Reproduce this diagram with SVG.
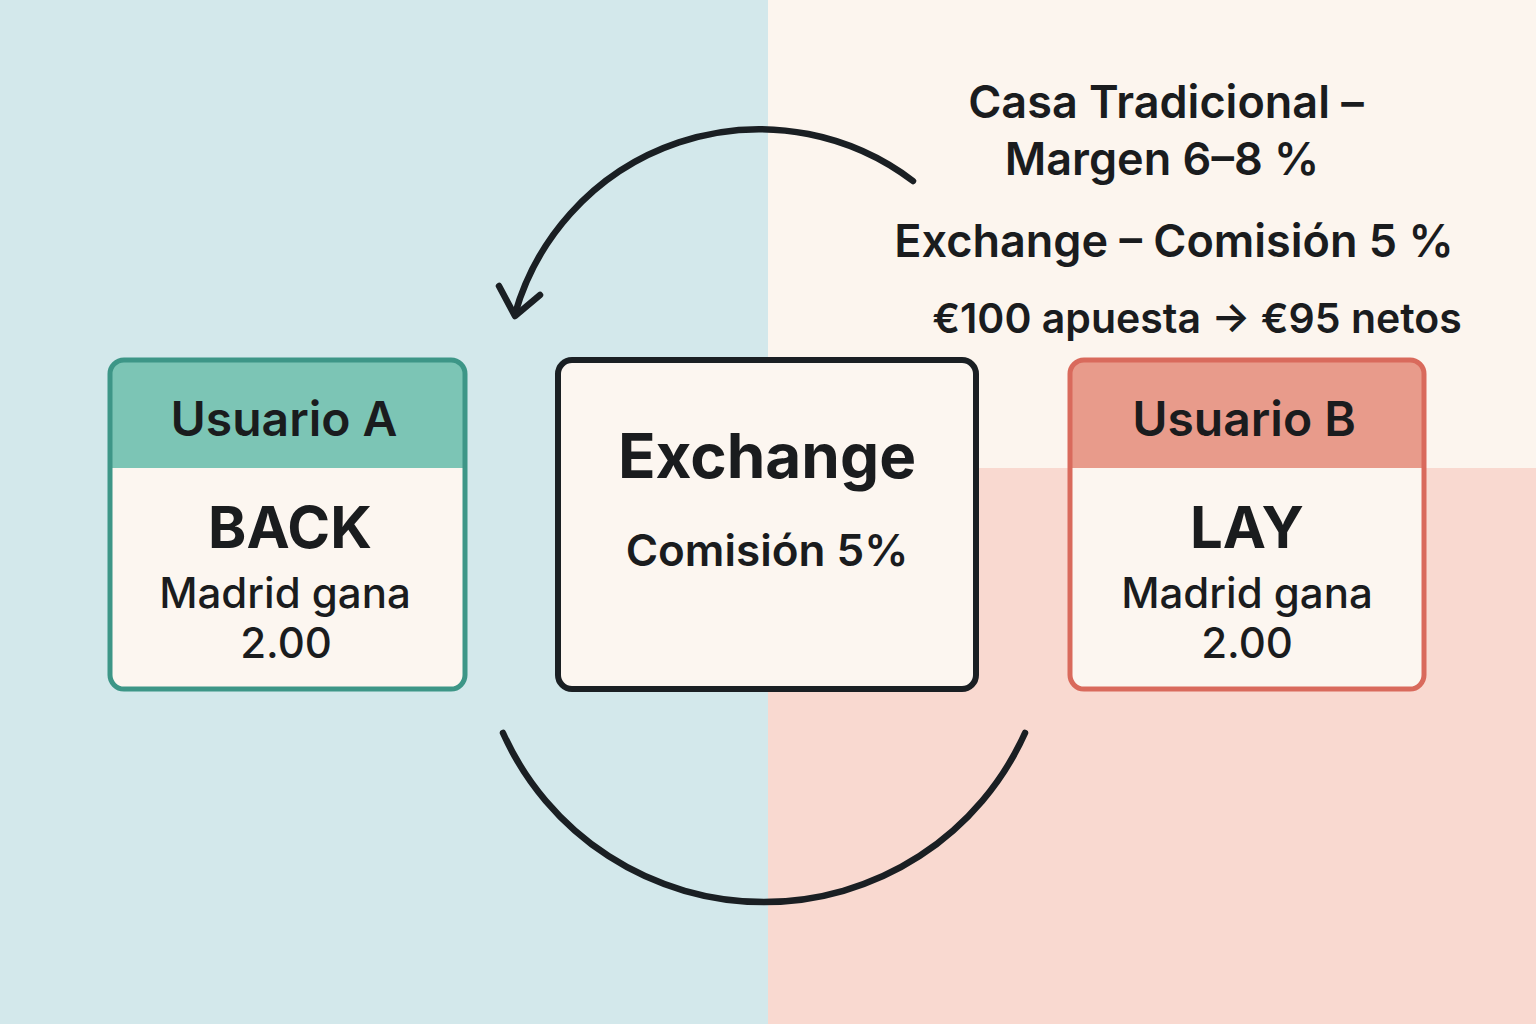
<svg xmlns="http://www.w3.org/2000/svg" width="1536" height="1024" viewBox="0 0 1536 1024">
  <style>
    .t { font-family: Inter, "Noto Sans", "Liberation Sans", sans-serif; fill: #1a1c1e; text-anchor: middle; }
    .h { font-size: 48px; font-weight: 600; }
    .big { font-size: 58px; font-weight: 700; }
    .ex { font-size: 62px; font-weight: 700; }
    .mid { font-size: 42px; font-weight: 500; }
    .com { font-size: 44px; font-weight: 600; }
    .side { font-size: 45px; font-weight: 600; }
    .arc { fill: none; stroke: #1a1f23; stroke-width: 6.5; stroke-linecap: round; stroke-linejoin: round; }
    .body { fill: #fcf6f0; }
  </style>
  <!-- background -->
  <rect x="0" y="0" width="768" height="1024" fill="#d3e8eb"/>
  <rect x="768" y="0" width="768" height="468" fill="#fcf5ee"/>
  <rect x="768" y="468" width="768" height="556" fill="#f9d9d0"/>

  <g id="connectors">
    <path class="arc" d="M 913 181 A 254 254 0 0 0 515 314"/>
    <polyline class="arc" points="499,286 515,316 540,295"/>
    <path class="arc" d="M 503 733 A 286 286 0 0 0 1025 733"/>
  </g>

  <g id="usuario-a">
    <rect class="body" x="110" y="360" width="355" height="329" rx="14"/>
    <path d="M110,468 V374 Q110,360 124,360 H451 Q465,360 465,374 V468 Z" fill="#7cc5b5"/>
    <rect x="110" y="360" width="355" height="329" rx="14" fill="none" stroke="#3d9687" stroke-width="5"/>
    <text class="t h" x="284" y="436">Usuario A</text>
    <text class="t big" x="290" y="548">BACK</text>
    <text class="t mid" x="285" y="608">Madrid gana</text>
    <text class="t mid" x="286" y="658">2.00</text>
  </g>

  <g id="exchange">
    <rect class="body" x="558" y="360" width="418" height="329" rx="14" stroke="#1a1f23" stroke-width="6"/>
    <text class="t ex" x="767" y="478">Exchange</text>
    <text class="t com" x="767" y="566">Comisión 5%</text>
  </g>

  <g id="usuario-b">
    <rect class="body" x="1070" y="360" width="354" height="329" rx="14"/>
    <path d="M1070,468 V374 Q1070,360 1084,360 H1410 Q1424,360 1424,374 V468 Z" fill="#e89b8b"/>
    <rect x="1070" y="360" width="354" height="329" rx="14" fill="none" stroke="#d96a5c" stroke-width="5"/>
    <text class="t h" x="1244" y="436">Usuario B</text>
    <text class="t big" x="1247" y="548">LAY</text>
    <text class="t mid" x="1247" y="608">Madrid gana</text>
    <text class="t mid" x="1247" y="658">2.00</text>
  </g>

  <g id="notes">
    <text class="t side" x="1166" y="118">Casa Tradicional –</text>
    <text class="t side" x="1162" y="175">Margen 6–8 %</text>
    <text class="t side" x="1174" y="257">Exchange – Comisión 5 %</text>
    <text class="t side" x="1197" y="333" style="font-size:41px">€100 apuesta → €95 netos</text>
  </g>
</svg>
